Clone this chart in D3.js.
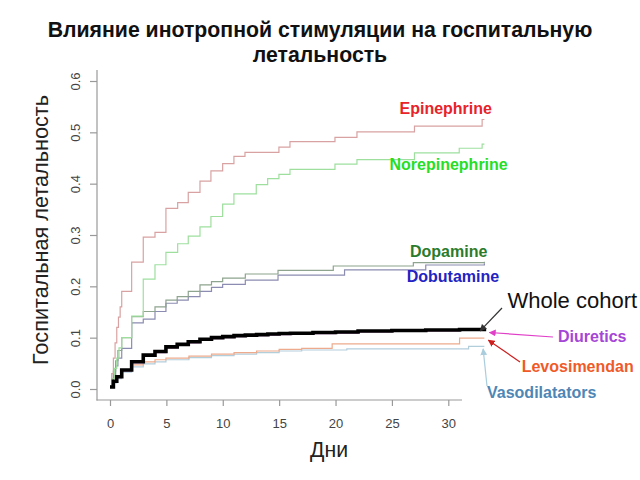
<!DOCTYPE html>
<html><head><meta charset="utf-8">
<script src="https://cdn.jsdelivr.net/npm/d3@7"></script>
<style>body{margin:0;background:#fff} svg{display:block;font-family:"Liberation Sans",Arial,sans-serif}</style>
</head><body><svg id="c" width="640" height="480"></svg>
<script>
// ---------- data ----------
const titleLines = ["Влияние инотропной стимуляции на госпитальную", "летальность"];
const xLabel = "Дни";
const yLabel = "Госпитальная летальность";
const xTicks = [0, 5, 10, 15, 20, 25, 30];
const yTicks = [0, 0.1, 0.2, 0.3, 0.4, 0.5, 0.6];
const yTickLabels = ["0.0", "0.1", "0.2", "0.3", "0.4", "0.5", "0.6"];

const epinephrine = [[0,0.005],[0.15,0.03],[0.3,0.06],[0.45,0.09],[0.6,0.12],[0.75,0.14],[0.9,0.16],[1.04,0.19],[1.92,0.247],[2.95,0.296],[3.99,0.305],[4.96,0.352],[6.0,0.363],[6.94,0.383],[7.98,0.405],[8.95,0.425],[9.99,0.439],[10.99,0.453],[11.97,0.461],[14.98,0.471],[15.96,0.482],[19.95,0.49],[21.9,0.501],[27.0,0.512],[33.0,0.525],[33.2,0.525]];
const norepinephrine = [[0,0.005],[0.2,0.02],[0.4,0.04],[0.6,0.06],[0.8,0.08],[1.04,0.10],[1.92,0.142],[2.95,0.214],[3.99,0.242],[4.96,0.266],[6.0,0.283],[6.94,0.298],[7.98,0.316],[8.95,0.336],[9.99,0.36],[10.99,0.38],[12.97,0.398],[13.98,0.41],[14.98,0.418],[15.96,0.428],[19.95,0.438],[21.9,0.447],[27.0,0.46],[30.97,0.469],[33.0,0.477],[33.2,0.477]];
const dopamine = [[0,0.005],[0.15,0.02],[0.3,0.035],[0.5,0.055],[0.7,0.075],[1.04,0.10],[1.92,0.141],[2.95,0.151],[3.99,0.160],[4.96,0.173],[5.96,0.18],[6.94,0.19],[7.98,0.203],[9.0,0.209],[9.99,0.216],[12.0,0.224],[14.9,0.231],[19.8,0.2396],[26.9,0.246],[33.2,0.248]];
const dobutamine = [[0,0.005],[0.15,0.015],[0.3,0.028],[0.5,0.045],[0.7,0.06],[1.04,0.079],[1.92,0.129],[2.95,0.136],[3.99,0.151],[4.96,0.167],[5.96,0.173],[6.94,0.18],[7.98,0.19],[9.0,0.198],[9.99,0.204],[12.0,0.212],[14.9,0.222],[20.8,0.232],[28.0,0.2416],[33.2,0.245]];
const wholeCohort = [[0,0.004],[0.3,0.015],[0.6,0.024],[1.04,0.037],[1.92,0.053],[2.95,0.066],[3.99,0.073],[4.96,0.082],[5.96,0.087],[6.94,0.092],[7.98,0.097],[9.0,0.100],[10.0,0.102],[11.0,0.104],[12.0,0.105],[13.0,0.106],[14.0,0.107],[15.0,0.108],[16.0,0.1085],[18.0,0.110],[20.0,0.111],[22.0,0.113],[25.0,0.114],[28.0,0.115],[31.0,0.116],[33.2,0.117]];
const diuretics = [[0,0.003],[0.3,0.013],[0.6,0.022],[1.04,0.035],[1.92,0.051],[2.95,0.064],[3.99,0.071],[4.96,0.080],[5.96,0.085],[6.94,0.090],[7.98,0.095],[9.0,0.098],[10.0,0.100],[11.0,0.102],[12.0,0.103],[13.0,0.104],[14.0,0.105],[15.0,0.106],[16.0,0.107],[18.0,0.108],[20.0,0.109],[22.0,0.111],[25.0,0.112],[28.0,0.113],[31.0,0.114],[33.2,0.115]];
const levosimendan = [[0,0.003],[0.3,0.015],[0.6,0.025],[1.0,0.038],[1.92,0.047],[2.95,0.053],[3.99,0.057],[4.96,0.06],[7.0,0.064],[9.0,0.068],[11.0,0.071],[13.0,0.074],[15.0,0.077],[17.0,0.079],[19.7,0.088],[31.0,0.099],[33.2,0.099]];
const vasodilatators = [[0,0.003],[0.3,0.012],[0.6,0.02],[1.0,0.033],[1.92,0.043],[2.95,0.049],[3.99,0.053],[4.96,0.057],[7.0,0.061],[9.0,0.065],[11.0,0.068],[13.0,0.071],[15.0,0.074],[17.0,0.076],[21.0,0.078],[31.8,0.083],[33.2,0.083]];

// ---------- styles / layout ----------
const series = [
  {name:"Vasodilatators", data:vasodilatators, color:"#b3cedb", w:1.2},
  {name:"Levosimendan", data:levosimendan, color:"#eeaa8c", w:1.2},
  {name:"Dobutamine", data:dobutamine, color:"#8c8cb2", w:1.2},
  {name:"Dopamine", data:dopamine, color:"#8ea48e", w:1.2},
  {name:"Norepinephrine", data:norepinephrine, color:"#9edf9e", w:1.2},
  {name:"Epinephrine", data:epinephrine, color:"#d9a2a2", w:1.2},
  {name:"Diuretics", data:diuretics, color:"#c27ac6", w:1.2},
  {name:"Whole cohort", data:wholeCohort, color:"#000", w:3.6}
];
const labels = [
  {text:"Epinephrine", x:399.5, y:114, color:"#e8232a", size:16, weight:"bold"},
  {text:"Norepinephrine", x:389.5, y:170, color:"#26de26", size:16, weight:"bold"},
  {text:"Dopamine", x:410, y:256.5, color:"#2b7b2b", size:16, weight:"bold"},
  {text:"Dobutamine", x:406.7, y:281.5, color:"#2323c2", size:16, weight:"bold"},
  {text:"Whole cohort", x:507.5, y:307.5, color:"#111", size:22, weight:"normal"},
  {text:"Diuretics", x:558, y:341.5, color:"#a646d6", size:16, weight:"bold"},
  {text:"Levosimendan", x:521.7, y:371.5, color:"#f05a28", size:16, weight:"bold"},
  {text:"Vasodilatators", x:487, y:397.5, color:"#4f86b5", size:16, weight:"bold"}
];
const arrows = [
  {x1:502, y1:308, t:33.0, v:0.117, dx:-2, dy:2, color:"#333"},
  {x1:553, y1:337, t:33.2, v:0.114, dx:5, dy:2, color:"#e040c8"},
  {x1:520, y1:362, t:33.2, v:0.099, dx:4, dy:2, color:"#cc1f1f"},
  {x1:487, y1:386, t:33.0, v:0.082, dx:1, dy:2, color:"#a9cddc"}
];

const svg = d3.select("#c");
const x = d3.scaleLinear().domain([0, 30]).range([110, 448.3]);
const y = d3.scaleLinear().domain([0, 0.6]).range([389, 81]);

// frame (L shape)
svg.append("line").attr("x1",97).attr("x2",97).attr("y1",70).attr("y2",400.5).attr("stroke","#999").attr("stroke-width",1.2);
svg.append("line").attr("x1",96.5).attr("x2",462).attr("y1",400).attr("y2",400).attr("stroke","#999").attr("stroke-width",1.2);

// x axis
const gx = svg.append("g").attr("transform","translate(0,400)")
  .call(d3.axisBottom(x).tickValues(xTicks).tickSize(6).tickFormat(d3.format("d")));
gx.select(".domain").remove();
gx.selectAll(".tick line").attr("stroke","#999").attr("stroke-width",1.2);
gx.selectAll(".tick text").attr("y",28).attr("dy",0).attr("fill","#444").style("font-size","13px").style("font-family","'Liberation Sans',Arial,sans-serif");

// y axis
const gy = svg.append("g").attr("transform","translate(97,0)")
  .call(d3.axisLeft(y).tickValues(yTicks).tickSize(7).tickFormat((d,i)=>yTickLabels[i]));
gy.select(".domain").remove();
gy.selectAll(".tick line").attr("stroke","#999").attr("stroke-width",1.2);
gy.selectAll(".tick text").attr("x",0).attr("dy",0).attr("text-anchor","middle")
  .attr("transform","translate(-17,0) rotate(-90)").attr("fill","#444")
  .style("font-size","13px").style("font-family","'Liberation Sans',Arial,sans-serif");

// lines
const line = d3.line().x(d=>x(d[0])).y(d=>y(d[1])).curve(d3.curveStepAfter);
series.forEach(s=>{
  svg.append("path").datum(s.data).attr("d",line).attr("fill","none")
    .attr("stroke",s.color).attr("stroke-width",s.w).attr("stroke-linejoin","miter");
});

// arrows
const defs = svg.append("defs");
arrows.forEach((a,i)=>{
  defs.append("marker").attr("id","ah"+i).attr("viewBox","0 0 10 10").attr("refX",9).attr("refY",5)
    .attr("markerWidth",7).attr("markerHeight",7).attr("markerUnits","userSpaceOnUse").attr("orient","auto")
    .append("path").attr("d","M0,0L10,5L0,10z").attr("fill",a.color);
  svg.append("line").attr("x1",a.x1).attr("y1",a.y1)
    .attr("x2",x(a.t)+a.dx).attr("y2",y(a.v)+a.dy)
    .attr("stroke",a.color).attr("stroke-width",1.2).attr("marker-end","url(#ah"+i+")");
});

// labels
labels.forEach(l=>{
  svg.append("text").attr("x",l.x).attr("y",l.y).attr("fill",l.color)
    .style("font-size",l.size+"px").style("font-weight",l.weight).text(l.text);
});

// fit helper
function fit(sel, target){
  const w = sel.node().getComputedTextLength();
  const fs = parseFloat(sel.style("font-size"));
  sel.style("font-size", (fs*target/w).toFixed(2)+"px");
}
// title
const t1 = svg.append("text").attr("x",320).attr("y",37).attr("text-anchor","middle")
  .style("font-size","20px").style("font-weight","bold").attr("fill","#111").text(titleLines[0]);
fit(t1, 545);
const fsT = t1.style("font-size");
svg.append("text").attr("x",320).attr("y",62).attr("text-anchor","middle")
  .style("font-size",fsT).style("font-weight","bold").attr("fill","#111").text(titleLines[1]);

// axis titles
const xl = svg.append("text").attr("x",329).attr("y",457).attr("text-anchor","middle")
  .style("font-size","20px").attr("fill","#222").text(xLabel);
fit(xl, 38);
const yl = svg.append("text").attr("transform","translate(48,230) rotate(-90)").attr("text-anchor","middle")
  .style("font-size","20px").attr("fill","#222").text(yLabel);
fit(yl, 270);
</script></body></html>
